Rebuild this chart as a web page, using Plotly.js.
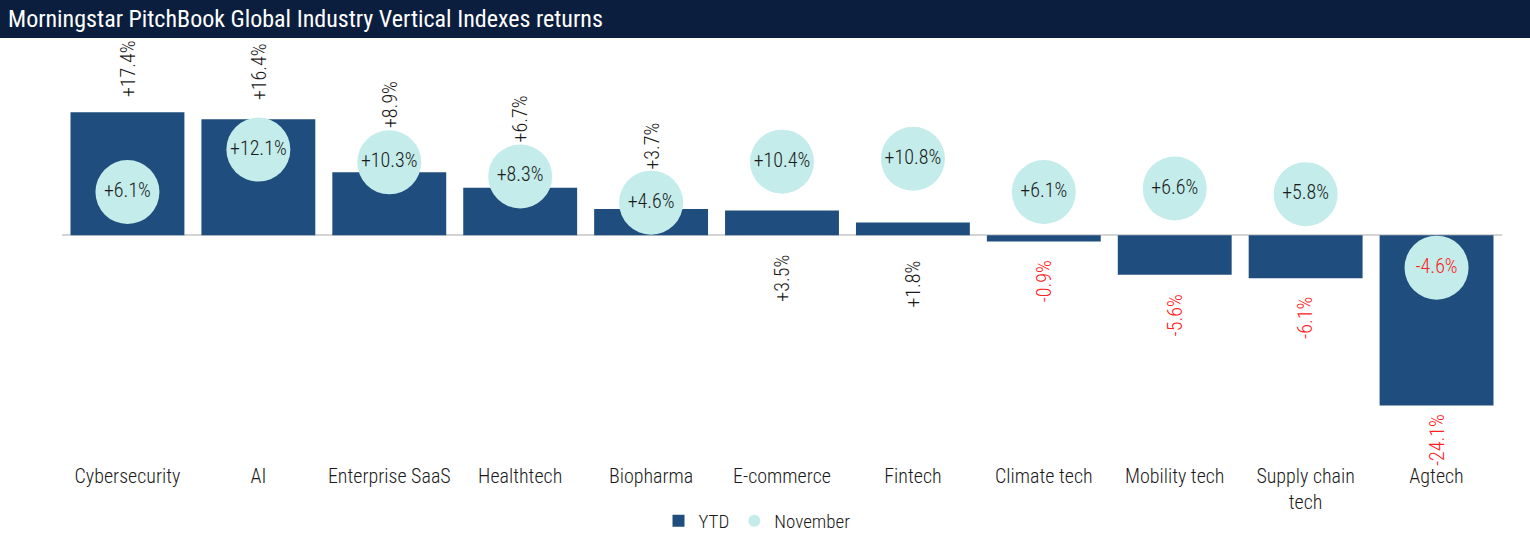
<!DOCTYPE html>
<html>
<head>
<meta charset="utf-8">
<script src="https://cdn.plot.ly/plotly-3.0.1.min.js"></script>
<style>
html,body{margin:0;padding:0;background:#fff;}
#chart{width:1530px;height:534px;}
</style>
</head>
<body>
<div id="chart"></div>
<script>
// ---- data ----
var categories = ["Cybersecurity", "AI", "Enterprise SaaS", "Healthtech", "Biopharma", "E-commerce", "Fintech", "Climate tech", "Mobility tech", "Supply chain<br>tech", "Agtech"];
var ytd = [17.4, 16.4, 8.9, 6.7, 3.7, 3.5, 1.8, -0.9, -5.6, -6.1, -24.1];
var november = [6.1, 12.1, 10.3, 8.3, 4.6, 10.4, 10.8, 6.1, 6.6, 5.8, -4.6];
var seriesNames = ["YTD", "November"];
var chartTitle = "Morningstar PitchBook Global Industry Vertical Indexes returns";

// ---- font detection (condensed face if installed) ----
function hasFont(name) {
  var c = document.createElement("canvas").getContext("2d");
  var s = "Cybersecurity Enterprise 0123456789%";
  var res = false;
  ["monospace", "serif"].forEach(function(fb){
    c.font = "20px " + fb; var w0 = c.measureText(s).width;
    c.font = "20px \"" + name + "\", " + fb; var w1 = c.measureText(s).width;
    if (Math.abs(w0 - w1) > 0.5) res = true;
  });
  return res;
}
var candidates = ["Liberation Sans Narrow", "Roboto Condensed", "DejaVu Sans Condensed", "Open Sans Condensed", "Lato"];
var chosen = "Lato";
for (var k = 0; k < candidates.length; k++) { if (hasFont(candidates[k])) { chosen = candidates[k]; break; } }
var condensed = chosen !== "Lato";
var FONT = "\"" + chosen + "\", Lato, sans-serif";
var S = condensed ? 1 : 0.9;
var WT = 300;

// ---- styling / label placement ----
var BAR = "#1F4E7E", DOT = "#C3ECEA", RED = "#FF2020", NAVY = "#0B1E3D", INK = "#1a1a1a";
var labelAnchor = ["end","end","end","end","end","zero","zero","end","end","end","end"];
var labelGap = [13, 17, 42, 43, 37, 18, 23, 17, 18, 17, 7];

function fmt(v){ return (v > 0 ? "+" : "") + v.toFixed(1) + "%"; }

var W = 1530, H = 534;
var M = {l: 62, r: 28, t: 45, b: 79};
var plotW = W - M.l - M.r, plotH = H - M.t - M.b;

var annotations = [];
for (var i = 0; i < categories.length; i++) {
  var v = ytd[i];
  var atZero = labelAnchor[i] === "zero";
  var up = v > 0 && !atZero;
  annotations.push({
    x: categories[i], y: atZero ? 0 : v, xref: "x", yref: "y",
    text: fmt(v), showarrow: false, textangle: -90,
    xanchor: "center", yanchor: up ? "bottom" : "top",
    yshift: up ? labelGap[i] : -labelGap[i],
    font: {family: FONT, size: Math.round(20 * S), weight: WT, color: v < 0 ? RED : INK}
  });
}

var traces = [
  {
    type: "bar", name: seriesNames[0], x: categories, y: ytd,
    marker: {color: BAR, line: {width: 0}},
    hoverinfo: "skip"
  },
  {
    type: "scatter", mode: "markers+text", name: seriesNames[1],
    x: categories, y: november,
    text: november.map(fmt), textposition: "middle center",
    textfont: {family: FONT, size: Math.round(20 * S), weight: WT, color: november.map(function(v){ return v < 0 ? RED : INK; })},
    marker: {color: DOT, size: 64, line: {width: 0}},
    hoverinfo: "skip", cliponaxis: false
  }
];

var layout = {
  width: W, height: H,
  margin: M,
  paper_bgcolor: "#fff", plot_bgcolor: "rgba(0,0,0,0)",
  font: {family: FONT, size: 19, weight: WT, color: INK},
  bargap: 0.13,
  showlegend: true,
  legend: {orientation: "h", x: 0.5 - 8 / W, xref: "container", xanchor: "center",
           y: 1 - 521 / H, yref: "container", yanchor: "middle",
           bgcolor: "rgba(0,0,0,0)",
           font: {family: FONT, size: Math.round(19 * S), weight: WT, color: INK}, itemsizing: "constant", traceorder: "normal",
           itemwidth: 30},
  title: {text: chartTitle, x: 8 / W, xref: "container", xanchor: "left",
          y: 1 - 19 / H, yref: "container", yanchor: "middle",
          font: {family: FONT, size: Math.round(24 * S), weight: 400, color: "#fff"}},
  xaxis: {type: "category", range: [-0.5, categories.length - 0.5], autorange: false,
          showgrid: false, showline: false, ticks: "", tickangle: 0, automargin: false, fixedrange: true,
          ticklabelstandoff: 7,
          tickfont: {family: FONT, size: Math.round(20 * S), weight: WT, color: INK}},
  yaxis: {range: [-31.1, 26.9], autorange: false, showgrid: false, showticklabels: false, ticks: "",
          showline: false, zeroline: true, zerolinecolor: "#D4D4D4", zerolinewidth: 2, fixedrange: true, automargin: false},
  shapes: [{
    type: "rect", xref: "paper", yref: "paper", layer: "below",
    x0: -M.l / plotW, x1: (W - M.l) / plotW,
    y0: (M.t + plotH - 38) / plotH, y1: (M.t + plotH) / plotH,
    fillcolor: NAVY, line: {width: 0}
  }],
  annotations: annotations
};

Plotly.newPlot("chart", traces, layout, {displayModeBar: false, staticPlot: true});
</script>
</body>
</html>
